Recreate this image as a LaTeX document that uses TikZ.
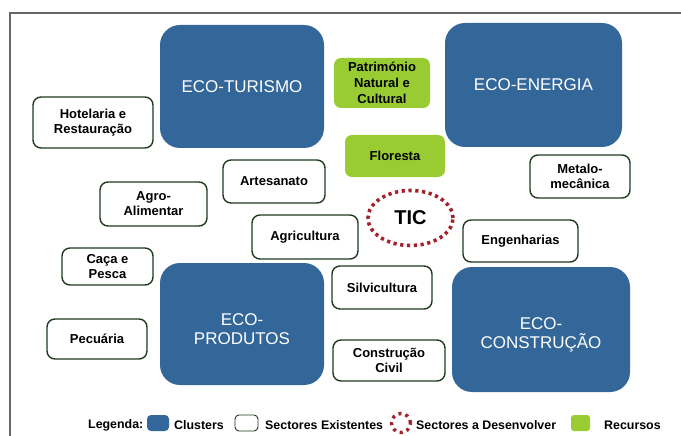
\documentclass[tikz,border=0pt]{standalone}
\usepackage{fontspec}
\setmainfont{Liberation Sans}
\usetikzlibrary{shapes.geometric}
\definecolor{clblue}{HTML}{336699}
\definecolor{resgreen}{HTML}{99CC33}
\definecolor{boxline}{HTML}{1F3A1F}
\definecolor{ticred}{HTML}{A3212B}
\definecolor{framegray}{HTML}{666666}
\tikzset{
  cluster/.style={fill=clblue, draw=none, rounded corners=20pt, text=white, align=center,
    font=\fontsize{17}{19}\selectfont, inner sep=0pt},
  clustertext/.style={text=white, align=center, font=\fontsize{17}{19}\selectfont, inner sep=0pt},
  sector/.style={draw=boxline, line width=1.4pt, fill=white, rounded corners=8pt, align=center,
    font=\fontsize{13}{15}\selectfont\bfseries, inner sep=0pt},
  resource/.style={fill=resgreen, draw=none, rounded corners=7pt, align=center,
    font=\fontsize{13}{16}\selectfont\bfseries, inner sep=0pt},
  develop/.style={ellipse, draw=ticred, line width=3.6pt, dash pattern=on 3.2pt off 3.6pt,
    font=\fontsize{20}{22}\selectfont\bfseries, inner sep=0pt},
  legtext/.style={anchor=west, font=\fontsize{12.4}{14}\selectfont\bfseries, inner sep=0pt},
}
\begin{document}
\begin{tikzpicture}[x=1pt,y=-1pt]
\useasboundingbox (0,0) rectangle (681,436);
\draw[framegray, line width=1.2pt] (10,436) -- (10,13) -- (681,13);
% clusters
\node[cluster, minimum width=164pt, minimum height=123pt] (turismo) at (242,86.5) {ECO-TURISMO};
\node[cluster, minimum width=177pt, minimum height=124pt] (energia) at (533.5,85) {ECO-ENERGIA};
\node[cluster, minimum width=164pt, minimum height=122pt] (produtos) at (242,324) {};
\node[clustertext] (produtost) at ([yshift=-5pt]produtos.center) {ECO-\\PRODUTOS};
\node[cluster, minimum width=178pt, minimum height=125pt] (construcao) at (541,329.5) {};
\node[clustertext] (construcaot) at ([yshift=-5pt]construcao.center) {ECO-\\CONSTRUÇÃO};
% resources
\node[resource, minimum width=96pt, minimum height=50pt] (patrimonio) at (382,83) {Património\\Natural e\\Cultural};
\node[resource, minimum width=100pt, minimum height=42pt] (floresta) at (395,156) {Floresta};
% to develop
\node[develop, minimum width=85pt, minimum height=55pt] (tic) at (410.5,218) {TIC};
% existing sectors
\node[sector, minimum width=120pt, minimum height=51pt] (hotelaria) at (93,122.5) {Hotelaria e\\Restauração};
\node[sector, minimum width=107pt, minimum height=44pt] (agro) at (153.5,204) {Agro-\\Alimentar};
\node[sector, minimum width=91pt, minimum height=37pt] (caca) at (107.5,266.5) {Caça e\\Pesca};
\node[sector, minimum width=100pt, minimum height=40pt] (pecuaria) at (97,339) {Pecuária};
\node[sector, minimum width=102pt, minimum height=43pt] (artesanato) at (274,181.5) {Artesanato};
\node[sector, minimum width=106pt, minimum height=44pt] (agricultura) at (305,237) {Agricultura};
\node[sector, minimum width=100pt, minimum height=43pt] (silvicultura) at (382,287.5) {Silvicultura};
\node[sector, minimum width=112pt, minimum height=41pt] (civil) at (389,360.5) {Construção\\Civil};
\node[sector, minimum width=100pt, minimum height=43pt] (metalo) at (580,176.5) {Metalo-\\mecânica};
\node[sector, minimum width=115pt, minimum height=42pt] (engenharias) at (520.5,241) {Engenharias};
% legend
\node[legtext] (leg) at (88,425) {Legenda:};
\node[fill=clblue, rounded corners=4pt, minimum width=22pt, minimum height=16pt, inner sep=0pt] (legclu) at (158,423) {};
\node[legtext] (legclut) at (174,425) {Clusters};
\node[draw=boxline, line width=0.9pt, rounded corners=4pt, minimum width=23pt, minimum height=16pt, inner sep=0pt] (legsec) at (246.5,423) {};
\node[legtext] (legsect) at (265,425) {Sectores Existentes};
\node[circle, draw=ticred, line width=3.4pt, dash pattern=on 3pt off 4.2pt, minimum size=19pt, inner sep=0pt] (legdev) at (401,423) {};
\node[legtext] (legdevt) at (416,425) {Sectores a Desenvolver};
\node[fill=resgreen, rounded corners=3pt, minimum width=19pt, minimum height=16pt, inner sep=0pt] (legres) at (580.5,423) {};
\node[legtext] (legrest) at (604,425) {Recursos};
\end{tikzpicture}
\end{document}
